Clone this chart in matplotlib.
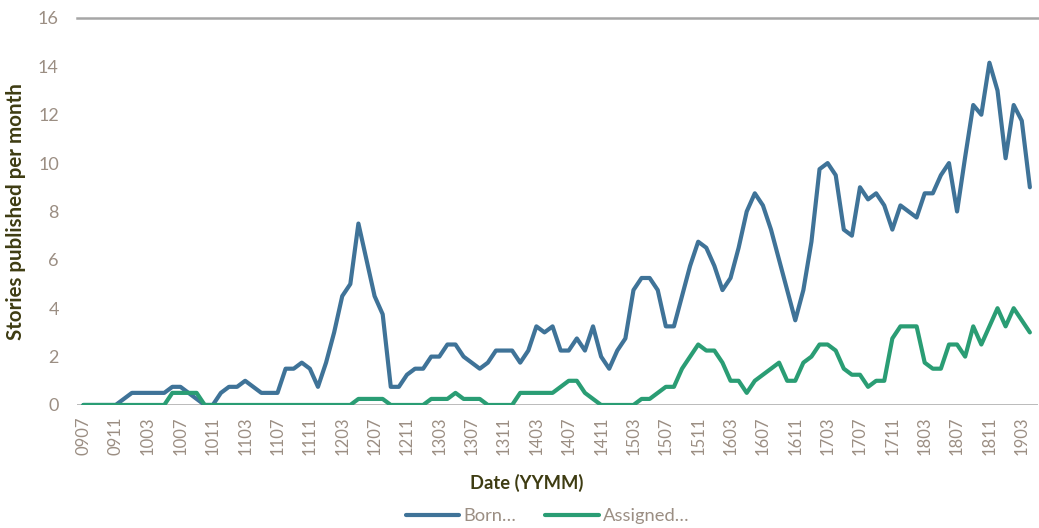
"""
Stories published per month, born vs assigned (0907 - 1904).
"""

import matplotlib
matplotlib.use("Agg")
import matplotlib.pyplot as plt
import numpy as np
import pandas as pd

# month labels, YYMM
months = [p.strftime("%y%m") for p in pd.period_range("2009-07", "2019-04", freq="M")]

born = [
    0, 0, 0, 0, 0, 0.25, 0.5, 0.5, 0.5, 0.5,
    0.5, 0.75, 0.75, 0.5, 0.25, 0, 0, 0.5, 0.75, 0.75,
    1.0, 0.75, 0.5, 0.5, 0.5, 1.5, 1.5, 1.75, 1.5, 0.75,
    1.75, 3.0, 4.5, 5.0, 7.5, 6.0, 4.5, 3.75, 0.75, 0.75,
    1.25, 1.5, 1.5, 2.0, 2.0, 2.5, 2.5, 2.0, 1.75, 1.5,
    1.75, 2.25, 2.25, 2.25, 1.75, 2.25, 3.25, 3.0, 3.25, 2.25,
    2.25, 2.75, 2.25, 3.25, 2.0, 1.5, 2.25, 2.75, 4.75, 5.25,
    5.25, 4.75, 3.25, 3.25, 4.5, 5.75, 6.75, 6.5, 5.75, 4.75,
    5.25, 6.5, 8.0, 8.75, 8.25, 7.25, 6.0, 4.75, 3.5, 4.75,
    6.75, 9.75, 10.0, 9.5, 7.25, 7.0, 9.0, 8.5, 8.75, 8.25,
    7.25, 8.25, 8.0, 7.75, 8.75, 8.75, 9.5, 10.0, 8.0, 10.25,
    12.4, 12.0, 14.15, 13.0, 10.2, 12.4, 11.75, 9.0,
]

assigned = [
    0, 0, 0, 0, 0, 0, 0, 0, 0, 0,
    0, 0.5, 0.5, 0.5, 0.5, 0, 0, 0, 0, 0,
    0, 0, 0, 0, 0, 0, 0, 0, 0, 0,
    0, 0, 0, 0, 0.25, 0.25, 0.25, 0.25, 0, 0,
    0, 0, 0, 0.25, 0.25, 0.25, 0.5, 0.25, 0.25, 0.25,
    0, 0, 0, 0, 0.5, 0.5, 0.5, 0.5, 0.5, 0.75,
    1.0, 1.0, 0.5, 0.25, 0, 0, 0, 0, 0, 0.25,
    0.25, 0.5, 0.75, 0.75, 1.5, 2.0, 2.5, 2.25, 2.25, 1.75,
    1.0, 1.0, 0.5, 1.0, 1.25, 1.5, 1.75, 1.0, 1.0, 1.75,
    2.0, 2.5, 2.5, 2.25, 1.5, 1.25, 1.25, 0.75, 1.0, 1.0,
    2.75, 3.25, 3.25, 3.25, 1.75, 1.5, 1.5, 2.5, 2.5, 2.0,
    3.25, 2.5, 3.25, 4.0, 3.25, 4.0, 3.5, 3.0,
]

series_names = ["Born\u2026", "Assigned\u2026"]
y_ticks = list(range(0, 17, 2))


def plot():
    plt.rcParams["font.family"] = ["Lato", "DejaVu Sans"]

    blue = "#3f7398"
    green = "#2a9d74"
    tick_color = "#9b8e83"
    title_color = "#3e3c12"
    rule_color = "#a6a6a6"

    fig = plt.figure(figsize=(10.39, 5.28), dpi=100)
    ax = fig.add_axes([0.074, 0.233, 0.925, 0.733])

    x = np.arange(len(months))
    ax.plot(x, born, color=blue, linewidth=3, solid_capstyle="round",
            solid_joinstyle="round", label=series_names[0], zorder=3)
    ax.plot(x, assigned, color=green, linewidth=3, solid_capstyle="round",
            solid_joinstyle="round", label=series_names[1], zorder=3)

    ax.set_xlim(-0.8, len(months) + 0.0)
    ax.set_ylim(0, 16)

    for s in ax.spines.values():
        s.set_visible(False)
    ax.axhline(0, color=rule_color, linewidth=1.8, zorder=2)
    ax.axhline(16, color=rule_color, linewidth=1.8, zorder=2, clip_on=False)

    ax.set_yticks(y_ticks)
    ax.set_yticklabels([str(t) for t in y_ticks], fontsize=13, color=tick_color)
    tick_idx = x[::4]
    ax.set_xticks(tick_idx)
    ax.set_xticklabels([months[i] for i in tick_idx], rotation=90,
                       fontsize=12, color=tick_color)
    ax.tick_params(axis="both", length=0)
    ax.tick_params(axis="y", pad=13)
    ax.tick_params(axis="x", pad=8)

    ax.set_ylabel("Stories published per month", fontsize=14.8, fontweight="bold",
                  color=title_color)
    ax.yaxis.set_label_coords(-0.053, 0.5)
    fig.text(0.507, 0.085, "Date (YYMM)", ha="center", va="center",
             fontsize=13.2, fontweight="bold", color=title_color)

    fig.legend(loc="center", bbox_to_anchor=(0.527, 0.022), ncol=2, frameon=False,
               fontsize=13.2, labelcolor=tick_color, handlelength=2.9,
               columnspacing=1.6, handletextpad=0.25)

    fig.savefig("out.png", dpi=100)
    plt.close(fig)


if __name__ == "__main__":
    plot()
